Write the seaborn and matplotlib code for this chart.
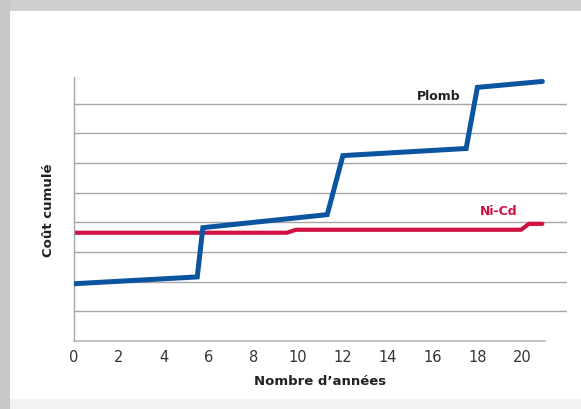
import pandas as pd
import numpy as np
import matplotlib.pyplot as plt
import seaborn as sns
from matplotlib.patches import Rectangle

# Données
annees_plomb = [0, 5.5, 5.75, 11.3, 12.0, 17.5, 18.0, 20.9]
cout_plomb = [1.93, 2.16, 3.82, 4.26, 6.25, 6.49, 8.55, 8.75]

annees_nicd = [0, 9.5, 9.9, 19.95, 20.3, 20.9]
cout_nicd = [3.65, 3.65, 3.75, 3.75, 3.95, 3.95]

x_ticks = [0, 2, 4, 6, 8, 10, 12, 14, 16, 18, 20]

df_plomb = pd.DataFrame({'annee': annees_plomb, 'cout': cout_plomb})
df_nicd = pd.DataFrame({'annee': annees_nicd, 'cout': cout_nicd})

sns.set_style('white')
plt.rcParams['font.family'] = ['DejaVu Sans']

fig = plt.figure(figsize=(5.81, 4.10), dpi=100)
fig.patch.set_facecolor('white')

# cadre gris du document scanné
fig.patches.append(Rectangle((0, 1 - 12 / 410), 1, 12 / 410, transform=fig.transFigure,
                             facecolor='#cfcfcf', edgecolor='none', zorder=0))
fig.patches.append(Rectangle((0, 0), 10 / 581, 1, transform=fig.transFigure,
                             facecolor='#c8c8c8', edgecolor='none', zorder=0))
fig.patches.append(Rectangle((10 / 581, 0), 1, 10 / 410, transform=fig.transFigure,
                             facecolor='#f3f3f3', edgecolor='none', zorder=0))

ax = fig.add_axes([74 / 581, 68 / 410, (567 - 74) / 581, (342 - 78) / 410])
ax.set_facecolor('none')

for y in range(1, 9):
    ax.axhline(y, color='#a6a6a6', lw=1.0, zorder=1)

sns.lineplot(data=df_plomb, x='annee', y='cout', color='#0b54a0', lw=3.6, ax=ax,
             zorder=3, solid_joinstyle='miter')
sns.lineplot(data=df_nicd, x='annee', y='cout', color='#cf1141', lw=3.0, ax=ax,
             zorder=2, solid_joinstyle='miter')

ax.text(17.25, 8.28, 'Plomb', fontsize=9, fontweight='bold', color='#222222', ha='right', va='center')
ax.text(19.8, 4.39, 'Ni-Cd', fontsize=9, fontweight='bold', color='#cf1141', ha='right', va='center')

ax.set_xlim(0, 22)
ax.set_ylim(0, 8.9)
ax.set_xticks(x_ticks)
ax.set_xticklabels([str(t) for t in x_ticks], fontsize=10.5, color='#333333')
ax.set_yticks([])
ax.tick_params(axis='x', length=0, pad=6)

for s in ['top', 'right']:
    ax.spines[s].set_visible(False)
ax.spines['left'].set_color('#a6a6a6')
ax.spines['bottom'].set_color('#b5b5b5')
ax.spines['left'].set_linewidth(1.0)
ax.spines['bottom'].set_linewidth(1.2)
ax.spines['bottom'].set_bounds(0, 21)

ax.set_xlabel("Nombre d’années", fontsize=9.5, fontweight='bold', color='#222222', labelpad=7)
ax.set_ylabel('Coût cumulé', fontsize=9.5, fontweight='bold', color='#222222', labelpad=14)

fig.savefig('out.png', dpi=100)
